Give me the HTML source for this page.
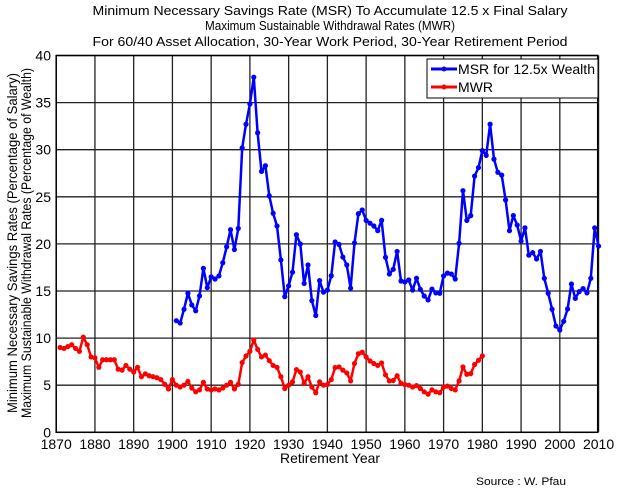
<!DOCTYPE html>
<html><head><meta charset="utf-8"><style>
html,body{margin:0;padding:0;background:#fff;}
svg{display:block;font-family:"Liberation Sans",Arial,sans-serif;}
</style></head><body>
<svg id="s" width="624" height="495" xmlns="http://www.w3.org/2000/svg">
<rect width="624" height="495" fill="#fff"/>
<g font-size="13" fill="#000" text-anchor="middle">
<text x="330" y="15" textLength="475" lengthAdjust="spacingAndGlyphs">Minimum Necessary Savings Rate (MSR) To Accumulate 12.5 x Final Salary</text>
<text x="330" y="30" textLength="250" lengthAdjust="spacingAndGlyphs">Maximum Sustainable Withdrawal Rates (MWR)</text>
<text x="330" y="46" textLength="475" lengthAdjust="spacingAndGlyphs">For 60/40 Asset Allocation, 30-Year Work Period, 30-Year Retirement Period</text>
</g>
<g id="grid" stroke="#222" stroke-width="1.3"></g>
<rect x="56.2" y="55.5" width="541.5" height="376.8" fill="none" stroke="#000" stroke-width="1.5"/>
<g id="ticks" font-size="14" fill="#000"></g>
<text x="330" y="463" font-size="14" text-anchor="middle" textLength="100" lengthAdjust="spacingAndGlyphs">Retirement Year</text>
<g font-size="14" text-anchor="middle">
<text transform="translate(17,243) rotate(-90)" textLength="340" lengthAdjust="spacingAndGlyphs">Minimum Necessary Savings Rates (Percentage of Salary)</text>
<text transform="translate(31,243) rotate(-90)" textLength="350" lengthAdjust="spacingAndGlyphs">Maximum Sustainable Withdrawal Rates (Percentage of Wealth)</text>
</g>
<g id="series"></g>
<rect x="427" y="59" width="171" height="39" fill="#fff" stroke="#000" stroke-width="1"/>
<line x1="431" y1="69" x2="457" y2="69" stroke="#0000ff" stroke-width="3"/>
<circle cx="444" cy="69" r="2.5" fill="#0000ff"/>
<line x1="431" y1="87" x2="457" y2="87" stroke="#ff0000" stroke-width="3"/>
<circle cx="444" cy="87" r="2.5" fill="#ff0000"/>
<text x="458" y="74" font-size="14" textLength="137" lengthAdjust="spacingAndGlyphs">MSR for 12.5x Wealth</text>
<text x="458" y="92" font-size="14">MWR</text>
<text x="476" y="485" font-size="11" textLength="90" lengthAdjust="spacingAndGlyphs">Source : W. Pfau</text>
</svg>
<script>
var NS="http://www.w3.org/2000/svg";
function X(y){return 56.2+(y-1870)*3.874;}
function Y(v){return 432.3-v*9.42;}
function el(t,a,p){var e=document.createElementNS(NS,t);for(var k in a)e.setAttribute(k,a[k]);p.appendChild(e);return e;}
var g=document.getElementById("grid"),tk=document.getElementById("ticks");
for(var yr=1870;yr<=2010;yr+=10){var x=X(yr);el("line",{x1:x,x2:x,y1:55.5,y2:432.3},g);var t=el("text",{x:x,y:449,"text-anchor":"middle"},tk);t.textContent=yr;}
for(var v=0;v<=40;v+=5){var y=Y(v);el("line",{x1:56.2,x2:597.7,y1:y,y2:y},g);var t=el("text",{x:51,y:y+5,"text-anchor":"end"},tk);t.textContent=v;}
var blue=[11.85,11.6,13.06,14.76,13.52,12.9,14.48,17.4,15.35,16.5,16.27,16.6,18.0,19.7,21.5,19.4,21.65,30.2,32.7,34.85,37.7,31.8,27.7,28.3,25.1,23.25,21.9,18.3,14.4,15.55,17.0,20.97,19.99,15.8,17.76,13.97,12.4,16.1,14.88,15.1,16.62,20.2,19.95,18.6,17.76,15.3,20.1,23.2,23.6,22.5,22.2,21.9,21.4,22.5,18.58,16.8,17.3,19.2,16.06,15.96,16.17,15.1,16.35,15.18,14.47,14.05,15.2,14.8,14.76,16.6,16.9,16.8,16.27,20.06,25.65,22.5,23.0,27.2,28.1,29.9,29.4,32.7,29.0,27.6,27.3,24.66,21.4,23.0,22.0,20.3,21.7,18.8,19.07,18.4,19.2,16.35,14.76,13.06,11.28,10.86,11.78,13.09,15.74,14.22,14.93,15.25,14.8,16.35,21.7,19.77];
var red=[9.0,8.9,9.1,9.3,8.9,8.6,10.1,9.3,8.0,7.9,6.9,7.7,7.7,7.7,7.7,6.7,6.6,7.1,6.7,6.4,6.9,5.9,6.2,6.0,5.9,5.8,5.6,5.1,4.6,5.6,5.0,4.8,5.0,5.4,4.7,4.3,4.5,5.3,4.6,4.5,4.6,4.5,4.7,5.0,5.3,4.6,5.1,7.4,8.1,8.6,9.8,8.8,8.0,8.2,7.6,7.1,6.9,5.9,4.65,5.0,5.35,6.65,6.4,5.2,5.9,4.8,4.2,5.35,5.0,5.07,5.6,6.87,6.94,6.6,6.3,5.46,7.3,8.34,8.5,8.0,7.57,7.3,7.1,7.36,6.1,5.46,5.5,6.0,5.2,5.07,5.0,4.8,4.96,4.65,4.3,4.05,4.5,4.3,4.2,4.8,4.9,4.65,4.5,5.46,6.94,6.16,6.23,7.2,7.64,8.1];
var s=document.getElementById("series");
function draw(d,start,c){var p=d.map(function(v,i){return X(start+i).toFixed(1)+","+Y(v).toFixed(1);}).join(" ");
el("polyline",{points:p,fill:"none",stroke:c,"stroke-width":2.5,"stroke-linejoin":"round"},s);
d.forEach(function(v,i){el("circle",{cx:X(start+i),cy:Y(v),r:2.6,fill:c},s);});}
draw(blue,1901,"#0000ff");draw(red,1871,"#ff0000");
</script>
</body></html>
